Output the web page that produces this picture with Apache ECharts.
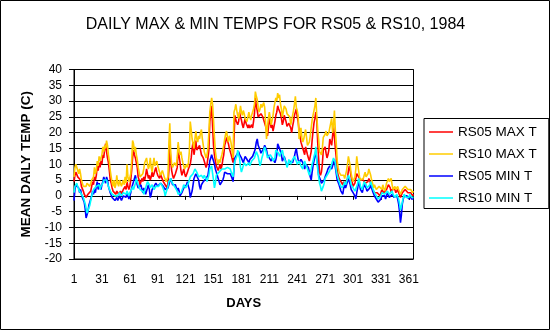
<!DOCTYPE html>
<html>
<head>
<meta charset="utf-8">
<title>Daily max &amp; min temps, RS05 &amp; RS10, 1984</title>
<script src="https://cdn.jsdelivr.net/npm/echarts@6/dist/echarts.min.js"></script>
<style>
  html, body { margin: 0; padding: 0; background: #ffffff; }
  #chart { width: 551px; height: 331px; }
</style>
</head>
<body>
<div id="chart"></div>
<script>
// Day-of-year categories (1984 is a leap year: 366 days)
const days = Array.from({ length: 366 }, (_, i) => String(i + 1));
const dayTicks = ['1', '31', '61', '91', '121', '151', '181', '211', '241', '271', '301', '331', '361'];
const tempTicks = [-20, -15, -10, -5, 0, 5, 10, 15, 20, 25, 30, 35, 40];

// Daily maximum temperature at RS05 (deg C)
const rs05Max = [
  4.5, 6.5, 7.5, 7.0, 6.0, 5.5, 6.5, 5.0, 3.0, 2.5,
  1.5, 0.5, 0.0, -0.5, 0.0, 0.5, 1.0, 0.0, 1.5, 3.0,
  4.5, 3.5, 6.0, 5.0, 6.5, 9.5, 8.0, 10.5, 9.0, 11.0,
  10.0, 13.0, 12.0, 15.0, 16.5, 14.0, 12.0, 10.5, 8.0, 5.0,
  4.0, 2.5, 1.5, 2.0, 1.0, 0.5, 1.5, 1.0, 0.5, 1.0,
  1.5, 0.5, 1.0, 2.0, 1.5, 3.0, 2.0, 4.5, 3.0, 2.0,
  3.0, 5.0, 8.0, 12.0, 14.5, 13.0, 12.0, 12.5, 9.0, 6.0,
  5.0, 3.5, 4.0, 5.5, 4.5, 6.0, 5.0, 6.5, 8.5, 7.0,
  5.5, 6.5, 5.0, 6.0, 7.5, 6.0, 7.0, 8.0, 9.0, 7.5,
  6.5, 6.5, 5.5, 7.0, 6.0, 5.5, 4.5, 5.0, 3.5, 3.0,
  2.5, 4.0, 8.0, 17.0, 11.0, 8.0, 6.5, 5.5, 6.0, 7.0,
  7.5, 9.0, 16.0, 12.5, 10.5, 8.0, 6.5, 7.5, 8.5, 7.0,
  6.0, 6.5, 7.5, 8.5, 8.0, 10.0, 12.0, 15.0, 17.0, 13.0,
  15.0, 17.5, 14.5, 14.0, 15.0, 16.0, 14.5, 13.0, 12.5, 12.0,
  11.0, 10.5, 9.0, 10.0, 12.0, 14.5, 23.5, 26.0, 28.5, 22.0,
  16.0, 13.0, 11.0, 9.5, 10.0, 8.0, 9.0, 10.0, 8.5, 9.5,
  11.5, 13.0, 16.0, 17.0, 18.5, 17.5, 16.5, 15.0, 14.0, 13.0,
  12.5, 10.5, 18.0, 25.5, 24.0, 24.5, 22.5, 23.5, 26.5, 25.0,
  24.0, 22.5, 21.5, 23.0, 24.5, 23.0, 22.5, 21.5, 22.5, 21.5,
  22.0, 22.5, 21.5, 23.5, 26.0, 31.0, 28.5, 27.0, 25.0, 24.5,
  24.5, 26.0, 26.5, 25.0, 24.0, 23.5, 22.0, 20.5, 19.0, 21.5,
  24.5, 23.0, 21.5, 22.5, 20.5, 22.0, 23.5, 25.5, 26.5, 28.5,
  27.5, 27.5, 26.0, 24.5, 22.5, 23.5, 25.5, 24.5, 23.5, 22.0,
  21.5, 23.0, 23.5, 21.5, 20.0, 22.0, 23.5, 25.5, 26.5, 27.5,
  25.0, 23.5, 20.5, 19.0, 17.0, 16.0, 15.0, 14.5, 13.0, 15.5,
  16.0, 13.0, 12.0, 11.0, 12.5, 14.0, 17.5, 20.5, 23.0, 24.5,
  26.5, 24.0, 17.0, 12.0, 7.5, 6.5, 7.5, 10.0, 14.5, 15.0,
  15.5, 13.5, 12.0, 13.0, 14.5, 18.0, 17.0, 16.0, 16.5, 22.0,
  18.5, 15.0, 12.0, 8.0, 6.5, 5.5, 5.0, 4.5, 4.0, 3.5,
  4.5, 3.5, 3.5, 4.0, 5.5, 8.0, 9.5, 8.0, 6.0, 4.5,
  3.0, 2.5, 4.0, 5.5, 7.0, 7.5, 6.0, 5.5, 5.0, 4.5,
  4.5, 5.0, 5.5, 4.0, 3.5, 3.5, 4.5, 5.5, 5.0, 4.0,
  3.0, 2.0, 1.5, 1.0, 0.5, 1.5, 1.0, 0.5, 1.0, 0.0,
  1.0, 2.0, 1.5, 1.0, 0.5, 1.0, 2.0, 2.5, 3.5, 3.0,
  2.5, 1.0, 2.0, 2.5, 1.5, 2.0, 1.0, 1.5, 2.0, 1.0,
  0.5, -0.5, 0.0, 1.0, 0.5, 1.5, 2.0, 2.5, 1.5, 1.0,
  0.5, 1.5, 1.0, 0.5, 0.0, 0.5
];

// Daily maximum temperature at RS10 (deg C)
const rs10Max = [
  6.0, 9.0, 10.0, 9.5, 8.0, 7.0, 8.5, 7.0, 5.0, 4.0,
  3.0, 2.5, 3.5, 3.0, 4.0, 3.5, 4.0, 3.0, 3.5, 5.0,
  5.5, 6.0, 9.0, 7.0, 8.0, 11.0, 9.5, 12.5, 11.0, 12.0,
  13.0, 15.5, 14.0, 16.0, 15.0, 17.5, 16.0, 13.0, 11.0, 8.0,
  6.0, 4.0, 3.0, 5.0, 2.5, 3.5, 6.5, 4.0, 3.0, 5.0,
  4.0, 3.0, 2.5, 5.0, 3.5, 6.0, 4.0, 10.0, 6.0, 4.5,
  5.0, 7.0, 11.0, 17.5, 16.5, 14.0, 15.5, 13.0, 11.5, 9.0,
  7.5, 6.0, 6.5, 5.5, 7.0, 8.5, 10.5, 11.0, 12.0, 10.0,
  8.5, 9.5, 12.0, 9.0, 7.5, 10.0, 12.0, 9.5, 10.0, 11.0,
  9.5, 8.5, 7.5, 6.5, 7.0, 8.0, 7.5, 6.0, 5.5, 4.5,
  4.5, 6.0, 16.5, 23.0, 13.5, 10.0, 9.0, 8.5, 10.5, 10.0,
  9.5, 12.0, 17.0, 14.0, 13.0, 14.0, 12.0, 10.5, 9.5, 8.5,
  9.0, 10.0, 9.0, 10.5, 14.0, 23.5, 21.0, 18.0, 16.5, 15.0,
  18.0, 20.5, 18.0, 17.0, 19.0, 18.0, 20.0, 21.0, 18.0, 16.0,
  14.0, 13.0, 12.0, 13.0, 15.0, 20.0, 26.5, 29.0, 31.0, 29.0,
  24.0, 18.5, 14.0, 12.0, 11.0, 10.0, 11.5, 10.5, 12.0, 13.0,
  14.5, 16.0, 18.0, 19.5, 20.5, 18.5, 17.0, 19.0, 18.0, 16.5,
  14.0, 12.0, 26.5, 27.5, 29.0, 27.0, 25.5, 24.5, 26.0, 28.5,
  26.5, 25.5, 27.0, 26.0, 24.5, 24.0, 23.5, 25.0, 26.5, 25.0,
  24.0, 25.5, 26.0, 27.5, 29.0, 33.0, 31.5, 30.5, 28.0, 26.5,
  27.5, 29.0, 28.0, 27.5, 29.5, 28.0, 23.0, 18.0, 22.0, 24.5,
  26.5, 24.5, 22.5, 24.0, 25.5, 28.0, 29.5, 31.0, 30.0, 32.5,
  31.0, 32.0, 29.0, 27.5, 25.0, 26.5, 28.5, 28.0, 27.5, 26.0,
  25.5, 26.5, 25.0, 22.5, 24.0, 25.5, 27.0, 29.0, 31.5, 28.0,
  27.0, 25.5, 18.0, 19.5, 21.5, 18.5, 17.0, 18.0, 19.5, 21.0,
  18.5, 16.0, 16.5, 17.0, 19.0, 21.5, 24.0, 25.5, 27.0, 28.5,
  31.0, 25.5, 21.0, 18.0, 14.0, 13.5, 13.0, 15.0, 18.5, 19.0,
  19.5, 20.5, 19.0, 18.5, 20.0, 21.5, 23.0, 24.5, 20.0, 22.5,
  27.0, 20.5, 16.5, 11.0, 9.0, 7.5, 7.0, 6.5, 6.0, 6.5,
  6.5, 5.5, 6.0, 8.0, 10.0, 12.5, 11.0, 9.5, 7.0, 5.5,
  4.5, 4.5, 6.0, 8.5, 12.5, 10.0, 9.5, 6.0, 5.0, 4.5,
  5.0, 5.5, 6.5, 7.5, 6.0, 5.5, 7.0, 8.5, 7.5, 6.5,
  5.0, 4.0, 2.5, 3.5, 3.0, 2.0, 2.5, 2.5, 3.0, 3.0,
  2.5, 2.0, 3.5, 2.5, 1.5, 2.5, 4.0, 4.5, 5.5, 4.5,
  4.0, 5.5, 3.5, 2.0, 2.5, 3.0, 2.0, 2.5, 3.0, 2.0,
  1.5, 0.5, 1.0, 2.0, 2.5, 2.0, 3.0, 3.5, 2.5, 2.0,
  1.5, 2.5, 2.0, 1.5, 1.0, 1.5
];

// Daily minimum temperature at RS05 (deg C)
const rs05Min = [
  -1.5, 2.0, 3.5, 3.0, 4.0, 2.5, 1.0, 2.0, 0.5, -0.5,
  -1.0, -2.0, -4.0, -7.0, -6.5, -5.0, -3.0, -2.0, -1.0, 0.0,
  1.5, 0.5, 2.0, 1.0, 3.0, 4.5, 2.0, 4.0, 3.0, 2.0,
  3.5, 4.5, 6.0, 5.0, 4.0, 6.0, 5.0, 3.0, 2.0, 1.0,
  0.5, -0.5, -1.0, 0.0, -1.5, -1.0, -0.5, -1.5, -1.0, 0.0,
  -0.5, -1.5, -1.0, 0.0, -0.5, 0.5, -0.5, 1.0, 0.0, -1.0,
  0.0, 1.0, 2.5, 3.5, 4.5, 5.5, 6.5, 5.0, 3.5, 2.5,
  2.0, 3.0, 3.5, 2.0, 1.0, 2.5, 1.5, 0.5, 1.5, 2.5,
  3.5, 2.0, -0.5, 0.5, 2.0, 2.5, 3.0, 3.5, 4.0, 3.5,
  3.0, 3.5, 3.0, 4.0, 4.5, 3.5, 3.0, 2.5, 2.0, 2.5,
  1.5, 2.5, 3.5, 4.5, 5.5, 4.5, 3.5, 3.0, 3.5, 3.5,
  2.5, 1.5, 2.5, 1.5, 0.0, 0.5, 1.0, 1.5, 2.5, 2.0,
  3.0, 3.5, 4.5, 3.0, 2.0, -0.5, 0.5, 1.5, 3.5, 5.5,
  6.0, 7.0, 7.5, 6.5, 5.0, 3.0, 2.0, 3.5, 3.0, 4.5,
  4.0, 5.0, 5.5, 6.0, 6.5, 8.5, 11.0, 12.0, 13.0, 12.0,
  11.0, 10.0, 8.5, 7.5, 6.5, 5.5, 4.5, 3.5, 4.0, 4.0,
  5.0, 6.0, 7.5, 7.5, 8.0, 7.0, 6.5, 7.5, 7.0, 6.5,
  5.5, 4.5, 8.5, 12.0, 12.5, 13.0, 13.5, 14.0, 13.0, 12.5,
  12.0, 11.5, 10.5, 11.5, 12.5, 12.0, 11.5, 11.0, 10.5, 11.5,
  11.0, 12.0, 12.5, 13.0, 14.0, 15.0, 17.0, 18.0, 16.0, 15.5,
  14.5, 13.5, 13.0, 14.0, 15.0, 16.0, 15.5, 14.5, 13.0, 12.5,
  12.0, 11.5, 11.0, 12.0, 12.5, 11.5, 10.5, 11.5, 13.0, 16.5,
  16.0, 15.0, 14.0, 13.0, 11.0, 11.5, 12.5, 11.5, 10.5, 9.5,
  9.0, 10.0, 11.0, 11.5, 11.0, 10.5, 10.0, 12.5, 14.0, 15.0,
  13.0, 11.5, 10.5, 10.0, 11.5, 11.0, 10.5, 9.5, 8.5, 10.0,
  10.5, 9.5, 9.0, 7.5, 6.0, 5.0, 7.5, 9.5, 11.0, 12.5,
  14.0, 11.5, 9.5, 6.5, 6.0, 5.0, 4.0, 3.5, 4.5, 5.0,
  6.0, 6.5, 7.5, 8.5, 9.0, 9.5, 9.0, 8.5, 9.5, 10.5,
  11.5, 9.0, 7.0, 5.0, 4.5, 3.5, 2.5, 1.5, 1.0, 0.5,
  2.5, 3.5, 2.5, 3.0, 4.5, 5.5, 4.5, 3.5, 2.0, 1.5,
  1.0, 0.5, 0.0, -1.0, 1.0, 2.5, 4.5, 3.5, 2.0, 1.5,
  1.0, 2.5, 3.5, 3.0, 2.5, 1.5, 1.0, 2.0, 2.5, 3.5,
  2.5, 1.5, 1.0, 0.0, -0.5, -1.0, -1.5, -2.0, -2.5, -2.0,
  -1.0, 0.0, -0.5, 0.5, 0.0, -1.0, 0.0, 1.0, 0.5, -0.5,
  -1.0, -0.5, 0.5, 0.0, -0.5, -1.0, -0.5, 0.0, -1.0, -2.5,
  -5.0, -8.5, -6.0, -2.5, -1.0, 0.0, -0.5, 0.5, 0.0, -0.5,
  -1.0, 0.0, -0.5, -1.0, -0.5, -1.0
];

// Daily minimum temperature at RS10 (deg C)
const rs10Min = [
  1.0, 3.0, 3.5, 4.0, 3.0, 2.0, 2.5, 1.5, 0.5, 0.0,
  -0.5, -1.5, -2.5, -4.0, -5.5, -6.0, -5.0, -3.0, -1.5, 0.0,
  1.0, 2.0, 1.5, 2.5, 3.0, 3.5, 2.5, 3.5, 2.0, 3.0,
  3.5, 4.0, 5.0, 5.5, 4.5, 5.0, 4.0, 3.0, 2.5, 1.5,
  1.0, 0.5, 0.0, 1.0, 0.0, -0.5, 0.5, 0.0, 0.5, 1.0,
  0.5, 0.0, -0.5, 1.0, 0.5, 1.5, 0.5, 1.5, 1.0, 0.0,
  1.0, 1.5, 2.0, 3.0, 2.0, 1.5, 4.0, 5.5, 5.0, 3.5,
  3.0, 2.0, 1.5, 2.0, 1.5, 0.5, 1.5, 2.5, 3.5, 4.5,
  4.0, 3.5, 2.5, 2.0, 3.5, 3.0, 2.0, 2.5, 3.0, 3.5,
  3.0, 3.0, 3.5, 4.0, 3.5, 3.0, 2.5, 1.5, 0.0, 0.5,
  2.0, 3.0, 4.5, 5.0, 5.5, 4.5, 4.0, 3.5, 3.0, 2.5,
  2.0, 1.5, 0.5, 0.0, 0.5, 1.0, 1.5, 2.5, 3.5, 3.0,
  2.5, 2.5, 3.0, 4.0, 5.0, 6.0, 6.5, 6.5, 7.0, 7.5,
  8.5, 9.0, 7.5, 7.0, 6.0, 5.5, 6.0, 6.5, 6.0, 5.5,
  6.5, 7.0, 5.5, 4.5, 5.5, 6.5, 8.5, 9.0, 9.5, 7.0,
  5.0, 2.5, 4.0, 6.5, 7.0, 7.0, 7.5, 7.5, 8.0, 8.5,
  9.0, 9.0, 8.5, 8.5, 8.0, 9.0, 9.5, 9.0, 8.5, 7.5,
  7.0, 6.0, 8.5, 11.0, 11.5, 12.5, 14.5, 13.0, 12.0, 9.0,
  7.5, 8.5, 9.5, 10.5, 11.0, 9.5, 9.0, 10.0, 10.5, 9.5,
  10.0, 11.0, 11.5, 11.0, 12.0, 13.0, 14.0, 14.5, 12.5, 11.0,
  9.5, 10.5, 12.0, 13.0, 14.5, 15.5, 15.0, 13.5, 12.0, 12.0,
  12.5, 13.0, 13.5, 12.0, 11.0, 10.5, 12.0, 14.5, 15.0, 15.0,
  13.5, 12.5, 12.0, 12.5, 14.5, 13.0, 12.0, 11.5, 10.5, 9.0,
  10.0, 11.5, 11.0, 10.0, 9.5, 11.5, 12.0, 12.5, 12.0, 11.0,
  10.0, 9.5, 11.0, 10.5, 9.5, 9.0, 8.5, 10.0, 11.0, 10.0,
  9.5, 8.5, 8.0, 6.5, 7.5, 8.5, 10.0, 11.0, 12.5, 13.5,
  15.5, 11.0, 8.5, 6.0, 4.0, 3.0, 1.5, 2.0, 3.0, 4.0,
  5.5, 5.5, 6.0, 7.0, 7.5, 8.0, 9.0, 10.0, 11.0, 12.0,
  12.5, 10.5, 8.0, 6.5, 5.5, 4.5, 3.5, 3.0, 2.5, 2.0,
  3.5, 4.5, 3.5, 4.5, 5.5, 6.5, 6.0, 5.0, 3.5, 3.0,
  2.5, 2.0, 1.5, 1.0, 3.0, 4.0, 5.5, 4.5, 3.0, 2.5,
  2.0, 3.5, 4.5, 4.0, 3.5, 2.5, 2.0, 3.0, 3.5, 4.5,
  3.5, 2.5, 2.0, 1.0, 0.5, 0.0, -0.5, -1.0, -0.5, -0.5,
  0.0, 1.0, 1.5, 1.0, 0.5, 0.0, 1.0, 1.5, 1.0, 0.5,
  0.0, 1.0, 1.5, 0.5, 0.0, -0.5, 0.0, 0.5, 0.0, -1.0,
  -2.5, -4.5, -4.0, -2.0, -0.5, 0.5, 0.0, -0.5, -1.0, -0.5,
  -0.5, 0.5, 0.0, -0.5, -1.0, -0.5
];

const FONT = 'Arial, "Liberation Sans", sans-serif';

function lineSeries(name, values, color) {
  return {
    name: name,
    type: 'line',
    data: values,
    symbol: 'none',
    smooth: false,
    lineStyle: { color: color, width: 1.6 },
    itemStyle: { color: color },
    emphasis: { disabled: true },
    animation: false
  };
}

const chart = echarts.init(document.getElementById('chart'), null, { renderer: 'canvas' });

chart.setOption({
  backgroundColor: '#ffffff',
  animation: false,
  title: {
    text: 'DAILY MAX & MIN TEMPS FOR RS05 & RS10, 1984',
    left: 'center',
    top: 17,
    padding: 0,
    textStyle: { fontFamily: FONT, fontSize: 16, fontWeight: 'normal', color: '#000' }
  },
  grid: {
    left: 74,
    right: 137.5,
    top: 69.5,
    bottom: 72,
    show: true,
    borderColor: '#000',
    borderWidth: 1,
    backgroundColor: '#ffffff',
    containLabel: false
  },
  legend: {
    orient: 'vertical',
    left: 424,
    top: 118.5,
    padding: [6, 12, 3, 5],
    icon: 'rect',
    itemWidth: 24,
    itemHeight: 1.5,
    itemGap: 7,
    backgroundColor: '#ffffff',
    borderColor: '#000',
    borderWidth: 1,
    borderRadius: 0,
    selectedMode: false,
    textStyle: { fontFamily: FONT, fontSize: 13.5, color: '#000', lineHeight: 15 },
    data: ['RS05 MAX T', 'RS10 MAX T', 'RS05 MIN T', 'RS10 MIN T']
  },
  xAxis: {
    type: 'category',
    data: days,
    boundaryGap: false,
    name: 'DAYS',
    nameLocation: 'middle',
    nameGap: 38,
    nameTextStyle: { fontFamily: FONT, fontSize: 13, fontWeight: 'bold', color: '#000' },
    axisLine: { show: true, lineStyle: { color: '#000', width: 1 } },
    axisTick: {
      show: true,
      inside: false,
      length: 4,
      interval: (idx, val) => dayTicks.includes(val),
      lineStyle: { color: '#000' }
    },
    axisLabel: {
      interval: (idx, val) => dayTicks.includes(val),
      margin: 15,
      fontFamily: FONT,
      fontSize: 12,
      color: '#000'
    },
    splitLine: { show: false }
  },
  yAxis: {
    type: 'value',
    min: tempTicks[0],
    max: tempTicks[tempTicks.length - 1],
    interval: 5,
    name: 'MEAN DAILY TEMP (C)',
    nameLocation: 'middle',
    nameRotate: 90,
    nameGap: 34,
    nameTextStyle: { fontFamily: FONT, fontSize: 13.5, fontWeight: 'bold', color: '#000' },
    axisLine: { show: true, lineStyle: { color: '#000', width: 1 } },
    axisTick: { show: true, inside: false, length: 5, lineStyle: { color: '#000' } },
    axisLabel: { margin: 12, fontFamily: FONT, fontSize: 12, color: '#000' },
    splitLine: { show: true, lineStyle: { color: '#000', width: 1, type: 'solid' } }
  },
  graphic: [{
    type: 'rect',
    silent: true,
    z: 100,
    shape: { x: 0.5, y: 0.5, width: 549, height: 329 },
    style: { fill: 'none', stroke: '#000', lineWidth: 1 }
  }],
  series: [
    lineSeries('RS05 MAX T', rs05Max, '#ff0000'),
    lineSeries('RS10 MAX T', rs10Max, '#ffcc00'),
    lineSeries('RS05 MIN T', rs05Min, '#0000ff'),
    lineSeries('RS10 MIN T', rs10Min, '#00ffff')
  ]
});
</script>
</body>
</html>
